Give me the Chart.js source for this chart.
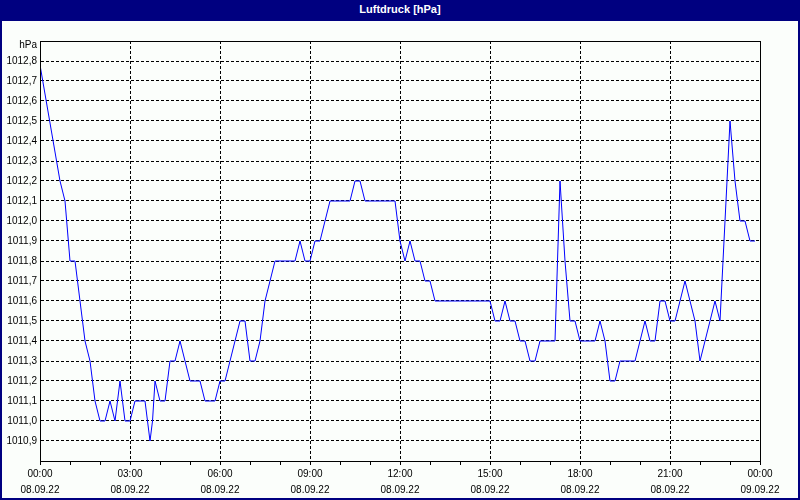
<!DOCTYPE html>
<html>
<head>
<meta charset="utf-8">
<title>Luftdruck</title>
<script src="https://cdn.jsdelivr.net/npm/chart.js@4/dist/chart.umd.min.js"></script>
<style>
  body { margin: 0; background: #fff; }
  #frame { position: relative; width: 796px; height: 477px; border: 2px solid #000080; border-top: 0; padding-top: 21px; background: #fbfefb; }
  #title { position: absolute; left: -2px; top: 0; width: 800px; height: 21px; background: #000080; color: #fff;
           font: bold 11px "Liberation Sans", sans-serif; text-align: center; line-height: 19px; }
  #wrap { position: relative; width: 796px; height: 477px; }
</style>
</head>
<body>
<div id="frame">
  <div id="title">Luftdruck [hPa]</div>
  <div id="wrap"><canvas id="canvas"></canvas></div>
</div>
<script>
// Messwerte 08.09.22 (Zeit, hPa)
var times = ['0:00','0:40','0:50','1:00','1:10','1:20','1:30','1:40','1:50','2:00',
  '2:10','2:20','2:30','2:40','2:50','3:00','3:10','3:30','3:35','3:40',
  '3:45','3:50','4:00','4:10','4:20','4:30','4:40','4:50','5:00','5:20',
  '5:30','5:50','6:00','6:10','6:20','6:30','6:40','6:50','7:00','7:10',
  '7:20','7:30','7:40','7:50','8:30','8:40','8:50','9:00','9:10','9:20',
  '9:30','9:40','10:20','10:30','10:40','10:50','11:50','11:55','12:00','12:10',
  '12:20','12:30','12:40','12:50','13:00','13:10','15:00','15:10','15:20','15:30',
  '15:40','15:50','16:00','16:10','16:20','16:30','16:40','17:10','17:20','17:30',
  '17:40','17:50','18:00','18:30','18:40','18:50','19:00','19:10','19:20','19:50',
  '20:00','20:10','20:20','20:30','20:40','20:50','21:00','21:10','21:20','21:30',
  '21:40','21:50','22:00','22:10','22:20','22:30','22:40','23:00','23:10','23:20',
  '23:30','23:40','23:50'];
var pressure = [1012.78,1012.2,1012.1,1011.8,1011.8,1011.6,1011.4,1011.3,1011.1,1011.0,
  1011.0,1011.1,1011.0,1011.2,1011.0,1011.0,1011.1,1011.1,1011.0,1010.9,
  1011.0,1011.2,1011.1,1011.1,1011.3,1011.3,1011.4,1011.3,1011.2,1011.2,
  1011.1,1011.1,1011.2,1011.2,1011.3,1011.4,1011.5,1011.5,1011.3,1011.3,
  1011.4,1011.6,1011.7,1011.8,1011.8,1011.9,1011.8,1011.8,1011.9,1011.9,
  1012.0,1012.1,1012.1,1012.2,1012.2,1012.1,1012.1,1012.0,1011.9,1011.8,
  1011.9,1011.8,1011.8,1011.7,1011.7,1011.6,1011.6,1011.5,1011.5,1011.6,
  1011.5,1011.5,1011.4,1011.4,1011.3,1011.3,1011.4,1011.4,1012.2,1011.8,
  1011.5,1011.5,1011.4,1011.4,1011.5,1011.4,1011.2,1011.2,1011.3,1011.3,
  1011.4,1011.5,1011.4,1011.4,1011.6,1011.6,1011.5,1011.5,1011.6,1011.7,
  1011.6,1011.5,1011.3,1011.4,1011.5,1011.6,1011.5,1012.5,1012.2,1012.0,
  1012.0,1011.9,1011.9];

var yTicks = [1010.9,1011.0,1011.1,1011.2,1011.3,1011.4,1011.5,1011.6,1011.7,1011.8,
  1011.9,1012.0,1012.1,1012.2,1012.3,1012.4,1012.5,1012.6,1012.7,1012.8];
var xHours = [0,1,2,3,4,5,6,7,8,9,10,11,12,13,14,15,16,17,18,19,20,21,22,23,24];
var xTimeLabels = {0:'00:00',3:'03:00',6:'06:00',9:'09:00',12:'12:00',15:'15:00',18:'18:00',21:'21:00',24:'00:00'};
var xDateLabels = {0:'08.09.22',3:'08.09.22',6:'08.09.22',9:'08.09.22',12:'08.09.22',15:'08.09.22',18:'08.09.22',21:'08.09.22',24:'09.09.22'};
var unitLabel = 'hPa';
var unitPos = 1012.88;

var data = times.map(function(t, i) {
  var p = t.split(':');
  return { x: parseInt(p[0]) + parseInt(p[1]) / 60, y: pressure[i] };
});

var font = { family: '"Liberation Sans", sans-serif', size: 10, lineHeight: '16px' };

var framePlugin = {
  id: 'frame',
  afterDraw: function(chart) {
    var a = chart.chartArea, ctx = chart.ctx;
    ctx.save();
    ctx.strokeStyle = '#000';
    ctx.lineWidth = 1;
    ctx.strokeRect(Math.round(a.left) + 0.5, Math.round(a.top) + 0.5, Math.round(a.right - a.left), Math.round(a.bottom - a.top));
    ctx.restore();
  }
};

var ctx = document.getElementById('canvas').getContext('2d');
var chart = new Chart(ctx, {
  type: 'line',
  data: {
    datasets: [{
      label: 'Luftdruck',
      data: data,
      borderColor: '#0000ff',
      borderWidth: 1,
      pointRadius: 0,
      tension: 0,
      fill: false
    }]
  },
  options: {
    responsive: true,
    maintainAspectRatio: false,
    animation: false,
    layout: { padding: { top: 20, right: 38, left: 0, bottom: 0 } },
    plugins: { legend: { display: false }, tooltip: { enabled: false } },
    scales: {
      x: {
        type: 'linear',
        min: 0,
        max: 24,
        afterBuildTicks: function(scale) {
          scale.ticks = xHours.map(function(h) { return { value: h }; });
        },
        afterFit: function(scale) { scale.height = 37; },
        grid: {
          color: function(c) {
            var v = c.tick ? c.tick.value : 0;
            return (v % 3 === 0 && v !== 0 && v !== 24) ? '#000' : 'rgba(0,0,0,0)';
          },
          tickColor: '#000',
          tickLength: 4,
          drawTicks: true
        },
        border: { display: true, color: '#000', width: 1, dash: [3, 2] },
        ticks: {
          color: '#000',
          font: font,
          padding: 1,
          maxRotation: 0,
          autoSkip: false,
          callback: function(v) {
            if (xTimeLabels[v] === undefined) return '';
            return [xTimeLabels[v], xDateLabels[v]];
          }
        }
      },
      y: {
        min: 1010.8,
        max: 1012.9,
        afterBuildTicks: function(scale) {
          scale.ticks = yTicks.map(function(v) { return { value: v }; });
          scale.ticks.push({ value: unitPos });
        },
        afterFit: function(scale) { scale.width = 38; },
        grid: {
          color: function(c) {
            return (c.tick && c.tick.value === unitPos) ? 'rgba(0,0,0,0)' : '#000';
          },
          drawTicks: false
        },
        border: { display: true, color: '#000', width: 1, dash: [3, 2] },
        ticks: {
          color: '#000',
          font: font,
          padding: 3,
          callback: function(v) {
            if (v === unitPos) return unitLabel;
            return v.toFixed(1).replace('.', ',');
          }
        }
      }
    }
  },
  plugins: [framePlugin]
});
</script>
</body>
</html>
